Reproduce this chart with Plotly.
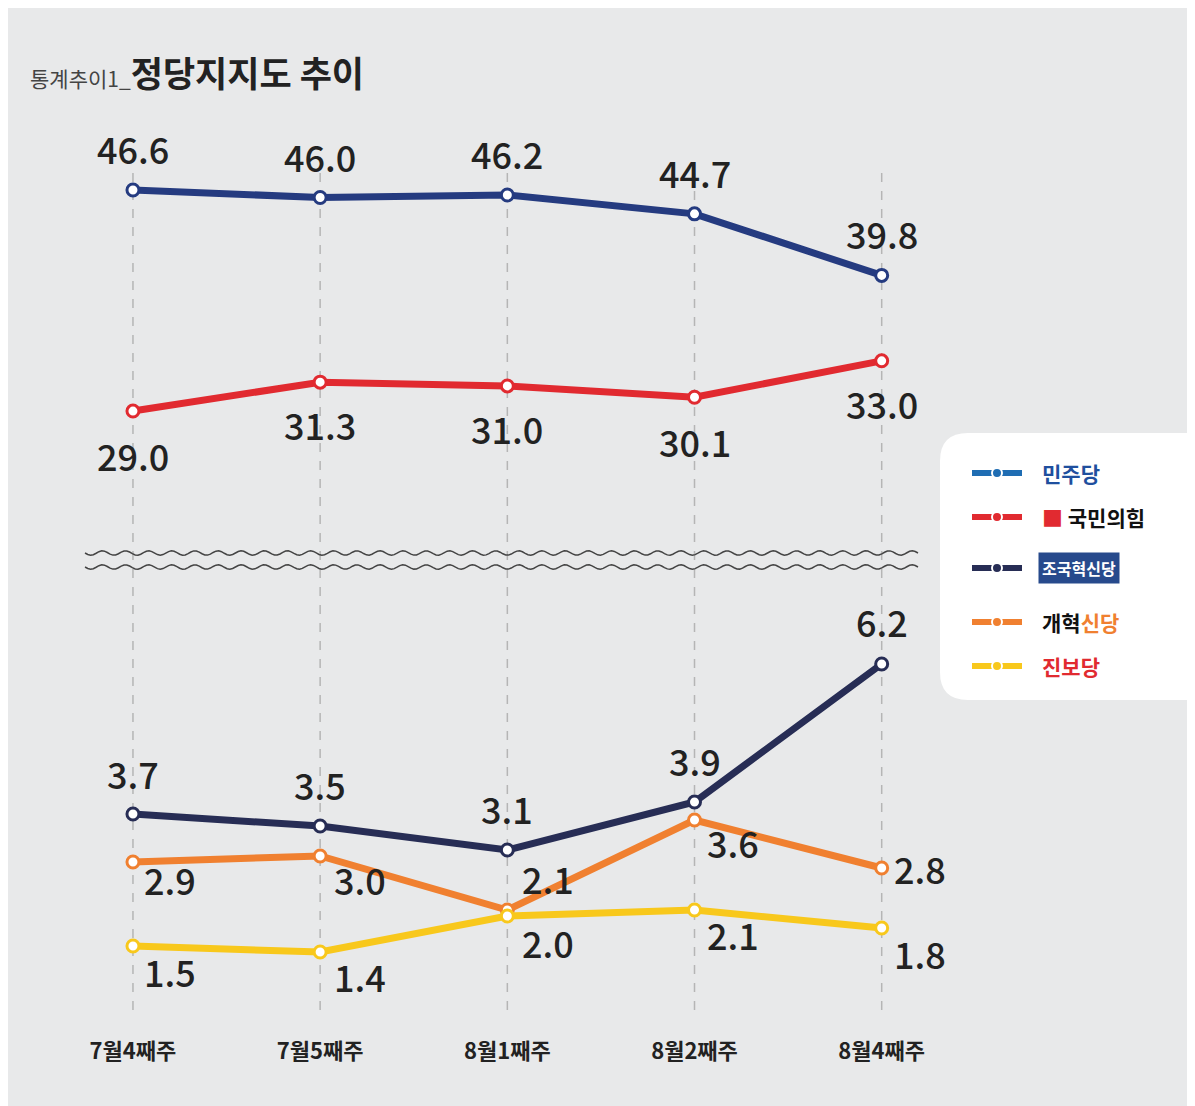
import numpy as np
import plotly.graph_objects as go
from plotly.subplots import make_subplots

weeks = ["7월4째주", "7월5째주", "8월1째주", "8월2째주", "8월4째주"]
minju = [46.6, 46.0, 46.2, 44.7, 39.8]
ppp = [29.0, 31.3, 31.0, 30.1, 33.0]
jogook = [3.7, 3.5, 3.1, 3.9, 6.2]
gaehyuk = [2.9, 3.0, 2.1, 3.6, 2.8]
jinbo = [1.5, 1.4, 2.0, 2.1, 1.8]

W, H = 1195, 1106
OFF = 8  # page body margin
FONT = "Noto Sans CJK KR"
BG = "#e8e9ea"

# (name, values, line colour, legend colour, upper panel?, label offsets px)
series = [
    ("더불어민주당", minju, "#253b80", "#1f6db3", True, [(0, -42)] * 5),
    ("국민의힘", ppp, "#e12a30", "#e12a30", True, [(0, 44), (0, 42), (0, 42), (0, 44), (0, 42)]),
    ("조국혁신당", jogook, "#272d55", "#272d55", False, [(0, -41), (0, -42), (0, -42), (0, -42), (0, -43)]),
    ("개혁신당", gaehyuk, "#f08030", "#f08030", False, [(37, 17), (40, 23), (41, -32), (38, 22), (38, 0)]),
    ("진보당", jinbo, "#f8c81c", "#f8c81c", False, [(37, 25), (40, 24), (41, 26), (38, 24), (38, 25)]),
]

fig = make_subplots(rows=2, cols=1, shared_xaxes=True, vertical_spacing=0)
x = list(range(len(weeks)))

for name, vals, col, _, upper, offs in series:
    row = 1 if upper else 2
    fig.add_trace(go.Scatter(
        x=x, y=vals, mode="lines+markers", name=name, showlegend=False,
        line=dict(color=col, width=7),
        marker=dict(size=12, color="white", line=dict(color=col, width=3)),
    ), row=row, col=1)
    for i, v in enumerate(vals):
        fig.add_annotation(
            x=i, y=v, xref="x", yref="y" if upper else "y2",
            text=f"{v:.1f}", showarrow=False, xshift=offs[i][0], yshift=-offs[i][1],
            font=dict(family=FONT, size=36, color="#222", weight=500),
        )

def px_(p):
    return (p - OFF) / W

def py(p):
    return 1 - (p - OFF) / H

fig.update_layout(
    width=W, height=H, paper_bgcolor=BG, plot_bgcolor=BG,
    margin=dict(l=0, r=0, t=0, b=0), showlegend=False,
    font=dict(family=FONT),
    xaxis=dict(domain=[px_(20.65), px_(994)], range=[-0.6, 4.6], showgrid=False,
               zeroline=False, showticklabels=False),
    xaxis2=dict(domain=[px_(20.65), px_(994)], range=[-0.6, 4.6], showgrid=False,
                zeroline=False, tickmode="array", tickvals=x, ticktext=weeks,
                ticks="", ticklabelstandoff=26,
                tickfont=dict(family=FONT, size=22, color="#222", weight="bold")),
    yaxis=dict(domain=[py(520), py(100)], range=[46.6 - 330 / 12.56, 46.6 + 90 / 12.56],
               visible=False),
    yaxis2=dict(domain=[py(1010), py(570)], range=[3.7 - 196 / 60, 3.7 + 244 / 60],
                visible=False),
)

# vertical dashed guides
for i in x:
    fig.add_shape(type="line", xref="x", yref="paper", x0=i, x1=i, y0=py(1010), y1=py(165),
                  line=dict(color="#b5b5b5", width=1.5, dash="dash"), layer="below")

# wavy axis break
xs = np.linspace(85, 918, 300)
for yc in (553, 567):
    ys = yc + 2.2 * np.sin((xs - 85) / 833 * 2 * np.pi * 36)
    path = "M " + " L ".join(f"{px_(a):.5f},{py(b):.5f}" for a, b in zip(xs, ys))
    fig.add_shape(type="path", xref="paper", yref="paper", path=path,
                  line=dict(color="#444", width=1.5))

# title
fig.add_annotation(xref="paper", yref="paper", x=px_(28), y=py(72), xanchor="left", yanchor="middle",
                   showarrow=False,
                   text="<span style='font-size:21px;color:#444'>통계추이1_</span>"
                        "<b><span style='font-size:35px;color:#222'>정당지지도 추이</span></b>",
                   font=dict(family=FONT))

# legend box (rounded left corners)
lx0, lx1, ly0, ly1, rr = px_(940), 1.02, py(700), py(433), 28
path = (f"M {lx1},{ly1} L {px_(940 + rr)},{ly1} Q {lx0},{ly1} {lx0},{py(433 + rr)} "
        f"L {lx0},{py(700 - rr)} Q {lx0},{ly0} {px_(940 + rr)},{ly0} L {lx1},{ly0} Z")
fig.add_shape(type="path", xref="paper", yref="paper", path=path,
              fillcolor="white", line=dict(width=0), layer="above")
legend_y = [473, 517, 568, 622, 666]
legend_txt = [
    ("민주당", "#1f4f9e", "white"),
    ("<span style='color:#e12a30'>■</span> 국민의힘", "#111", "white"),
    ("조국혁신당", "white", "#274a8c"),
    ("개혁<span style='color:#f08030'>신당</span>", "#111", "white"),
    ("진보당", "#e12a30", "white"),
]
for (name, vals, col, lcol, _, _), yy, (txt, tc, bgc) in zip(series, legend_y, legend_txt):
    fig.add_shape(type="line", xref="paper", yref="paper", x0=px_(972), x1=px_(1022),
                  y0=py(yy), y1=py(yy), line=dict(color=lcol, width=6), layer="above")
    fig.add_shape(type="circle", xref="paper", yref="paper", x0=px_(992), x1=px_(1002),
                  y0=py(yy + 5), y1=py(yy - 5), fillcolor=lcol, line=dict(color="white", width=2),
                  layer="above")
    fig.add_annotation(xref="paper", yref="paper", x=px_(1038), y=py(yy), xanchor="left",
                       yanchor="middle", showarrow=False, text=f"<b>{txt}</b>",
                       bgcolor=bgc, borderpad=3,
                       font=dict(family=FONT, size=21 if name != "조국혁신당" else 16, color=tc))

fig.write_html("out.html")
